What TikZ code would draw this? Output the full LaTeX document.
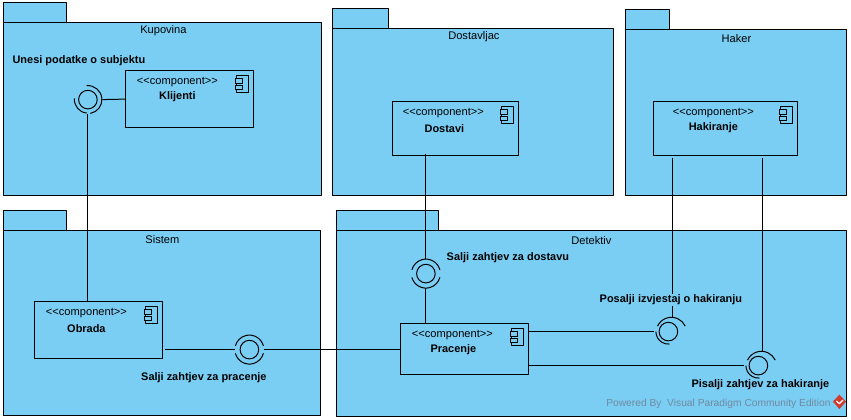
\documentclass[tikz,border=0pt]{standalone}
\usepackage{fontspec}
\setmainfont{Liberation Sans}
\definecolor{pkgblue}{HTML}{7ACEF4}
\definecolor{markgray}{HTML}{71899F}
\definecolor{markred}{HTML}{D23A2E}
\tikzset{
  pkg/.style={draw,fill=pkgblue,anchor=north west,inner sep=0pt,outer sep=0pt},
  comp/.style={pkg,minimum width=128,minimum height=57},
  iface/.style={circle,minimum size=28,inner sep=0pt},
  reg/.style={font=\fontsize{11.1}{13}\selectfont,inner sep=0pt},
  lab/.style={font=\fontsize{10.95}{13}\selectfont\bfseries,inner sep=0pt},
  ifacelab/.style={lab,fill=pkgblue,inner sep=1pt},
  markText/.style={font=\fontsize{10.25}{13}\selectfont,inner sep=0pt,text=markgray}
}
\newcommand{\stereo}{{<}{<}component{>}{>}}
\newcommand{\ifaceround}[1]{\draw (#1) circle (9.3pt);}
\newcommand{\ifacearc}[6]{\draw[shift={(#1)}] (#2,#3) ++(#5:#4 pt) arc[start angle=#5,end angle=#6,radius=#4 pt];}
\begin{document}
\begin{tikzpicture}[x=1pt,y=-1pt,line join=round,line width=1pt]
    \useasboundingbox (-0.4,-0.6) rectangle (850.6,419.4);
    % packages
    \node[pkg,minimum width=63,minimum height=20] (kupovinaTab) at (3,2) {};
    \node[pkg,minimum width=318,minimum height=173] (kupovina) at (3,22) {};
    \node[pkg,minimum width=56,minimum height=20] (dostavljacTab) at (332,8) {};
    \node[pkg,minimum width=281,minimum height=167] (dostavljac) at (332,28) {};
    \node[pkg,minimum width=44,minimum height=20] (hakerTab) at (625,9) {};
    \node[pkg,minimum width=221,minimum height=166] (haker) at (625,29) {};
    \node[pkg,minimum width=63,minimum height=20] (sistemTab) at (3,210) {};
    \node[pkg,minimum width=317,minimum height=185] (sistem) at (3,230) {};
    \node[pkg,minimum width=102,minimum height=20] (detektivTab) at (336,210) {};
    \node[pkg,minimum width=510,minimum height=186] (detektiv) at (336,230) {};
    \node[reg] at (163,30.5) {Kupovina};
    \node[reg] at (473.5,36.5) {Dostavljac};
    \node[reg] at (736,37.5) {Haker};
    \node[reg] at (162,238.5) {Sistem};
    \node[reg] at (591,239.5) {Detektiv};
    % components
    \node[comp] (klijenti) at (125,70) {};
    \node[comp,minimum width=126,minimum height=54] (dostavi) at (392,101) {};
    \node[comp,minimum width=144,minimum height=54] (hakiranje) at (653,101) {};
    \node[comp] (obrada) at (34,301) {};
    \node[comp,minimum height=51] (pracenje) at (400,323) {};
    \foreach \c in {klijenti,dostavi,hakiranje,obrada,pracenje}{
        \draw[shift={(\c.north east)},fill=pkgblue] (-17,5) rectangle (-5,22);
        \draw[shift={(\c.north east)},fill=pkgblue] (-18,8) rectangle (-11,12.5) (-18,14.5) rectangle (-11,19);
    }
    \node[reg] at (177,81.5) {\stereo};
    \node[lab] at (177,96.5) {Klijenti};
    \node[reg] at (443,112.5) {\stereo};
    \node[lab] at (444,127.5) {Dostavi};
    \node[reg] at (713,112.5) {\stereo};
    \node[lab] at (713,127.5) {Hakiranje};
    \node[reg] at (86,312.5) {\stereo};
    \node[lab] at (86,327.5) {Obrada};
    \node[reg] at (452,334) {\stereo};
    \node[lab] at (453,349.5) {Pracenje};
    % interfaces
    \node[iface] (unesi) at (87.5,99) {};
    \node[iface] (salPrac) at (249,349) {};
    \node[iface] (salDost) at (425.5,273) {};
    \node[iface] (posalji) at (668,331) {};
    \node[iface] (pisalji) at (758,365) {};
    \foreach \i in {unesi,salPrac,salDost,posalji,pisalji}{\ifaceround{\i}}
    \ifacearc{unesi}{0}{0}{14}{95}{-80}
    \ifacearc{unesi}{0}{0}{13.5}{175}{265}
    \foreach \i in {salPrac,salDost}{
        \ifacearc{\i}{0}{0}{14.5}{15}{165}
        \ifacearc{\i}{0}{0}{14.5}{195}{345}
    }
    \foreach \i in {posalji,pisalji}{
        \ifacearc{\i}{3}{1}{15.3}{155}{25}
        \ifacearc{\i}{0}{0}{12.5}{180}{275}
    }
    % connectors
    \coordinate (dostaviOut) at ([yshift=2pt]dostavi.south -| salDost);
    \coordinate (hakIzvj) at (671.7,157);
    \coordinate (hakPis) at (761.7,157);
    \draw (unesi.east) -- (klijenti.west);
    \draw (unesi.south) -- (unesi.south |- obrada.north);
    \draw ([xshift=3pt]salPrac -| obrada.east) -- (salPrac.west);
    \draw (salPrac.east) -- (salPrac -| pracenje.west);
    \draw (dostaviOut) -- (salDost.north);
    \draw (salDost.south) -- (salDost.south |- pracenje.north);
    \draw (posalji -| pracenje.east) -- (posalji.west);
    \draw (pisalji -| pracenje.east) -- (pisalji.west);
    \draw (hakIzvj) -- (hakIzvj |- posalji.north);
    \draw (hakPis) -- (hakPis |- pisalji.north);
    % interface labels
    \node[lab] at (78.5,60.5) {Unesi podatke o subjektu};
    \node[lab] at (203.5,377.5) {Salji zahtjev za pracenje};
    \node[lab] at (507.5,257.5) {Salji zahtjev za dostavu};
    \node[ifacelab] at (670.5,299.5) {Posalji izvjestaj o hakiranju};
    \node[ifacelab] at (760,384.5) {Pisalji zahtjev za hakiranje};
    % watermark
    \node[markText] at (718,403.5) {Powered By \ Visual Paradigm Community Edition};
    \fill[markred] (839,394) -- (845.5,401) -- (839,408.5) -- (832.5,401) -- cycle;
    \draw[white,line width=1.2pt] (836,400.5) -- (839,403) -- (842.5,399.5);
\end{tikzpicture}
\end{document}
